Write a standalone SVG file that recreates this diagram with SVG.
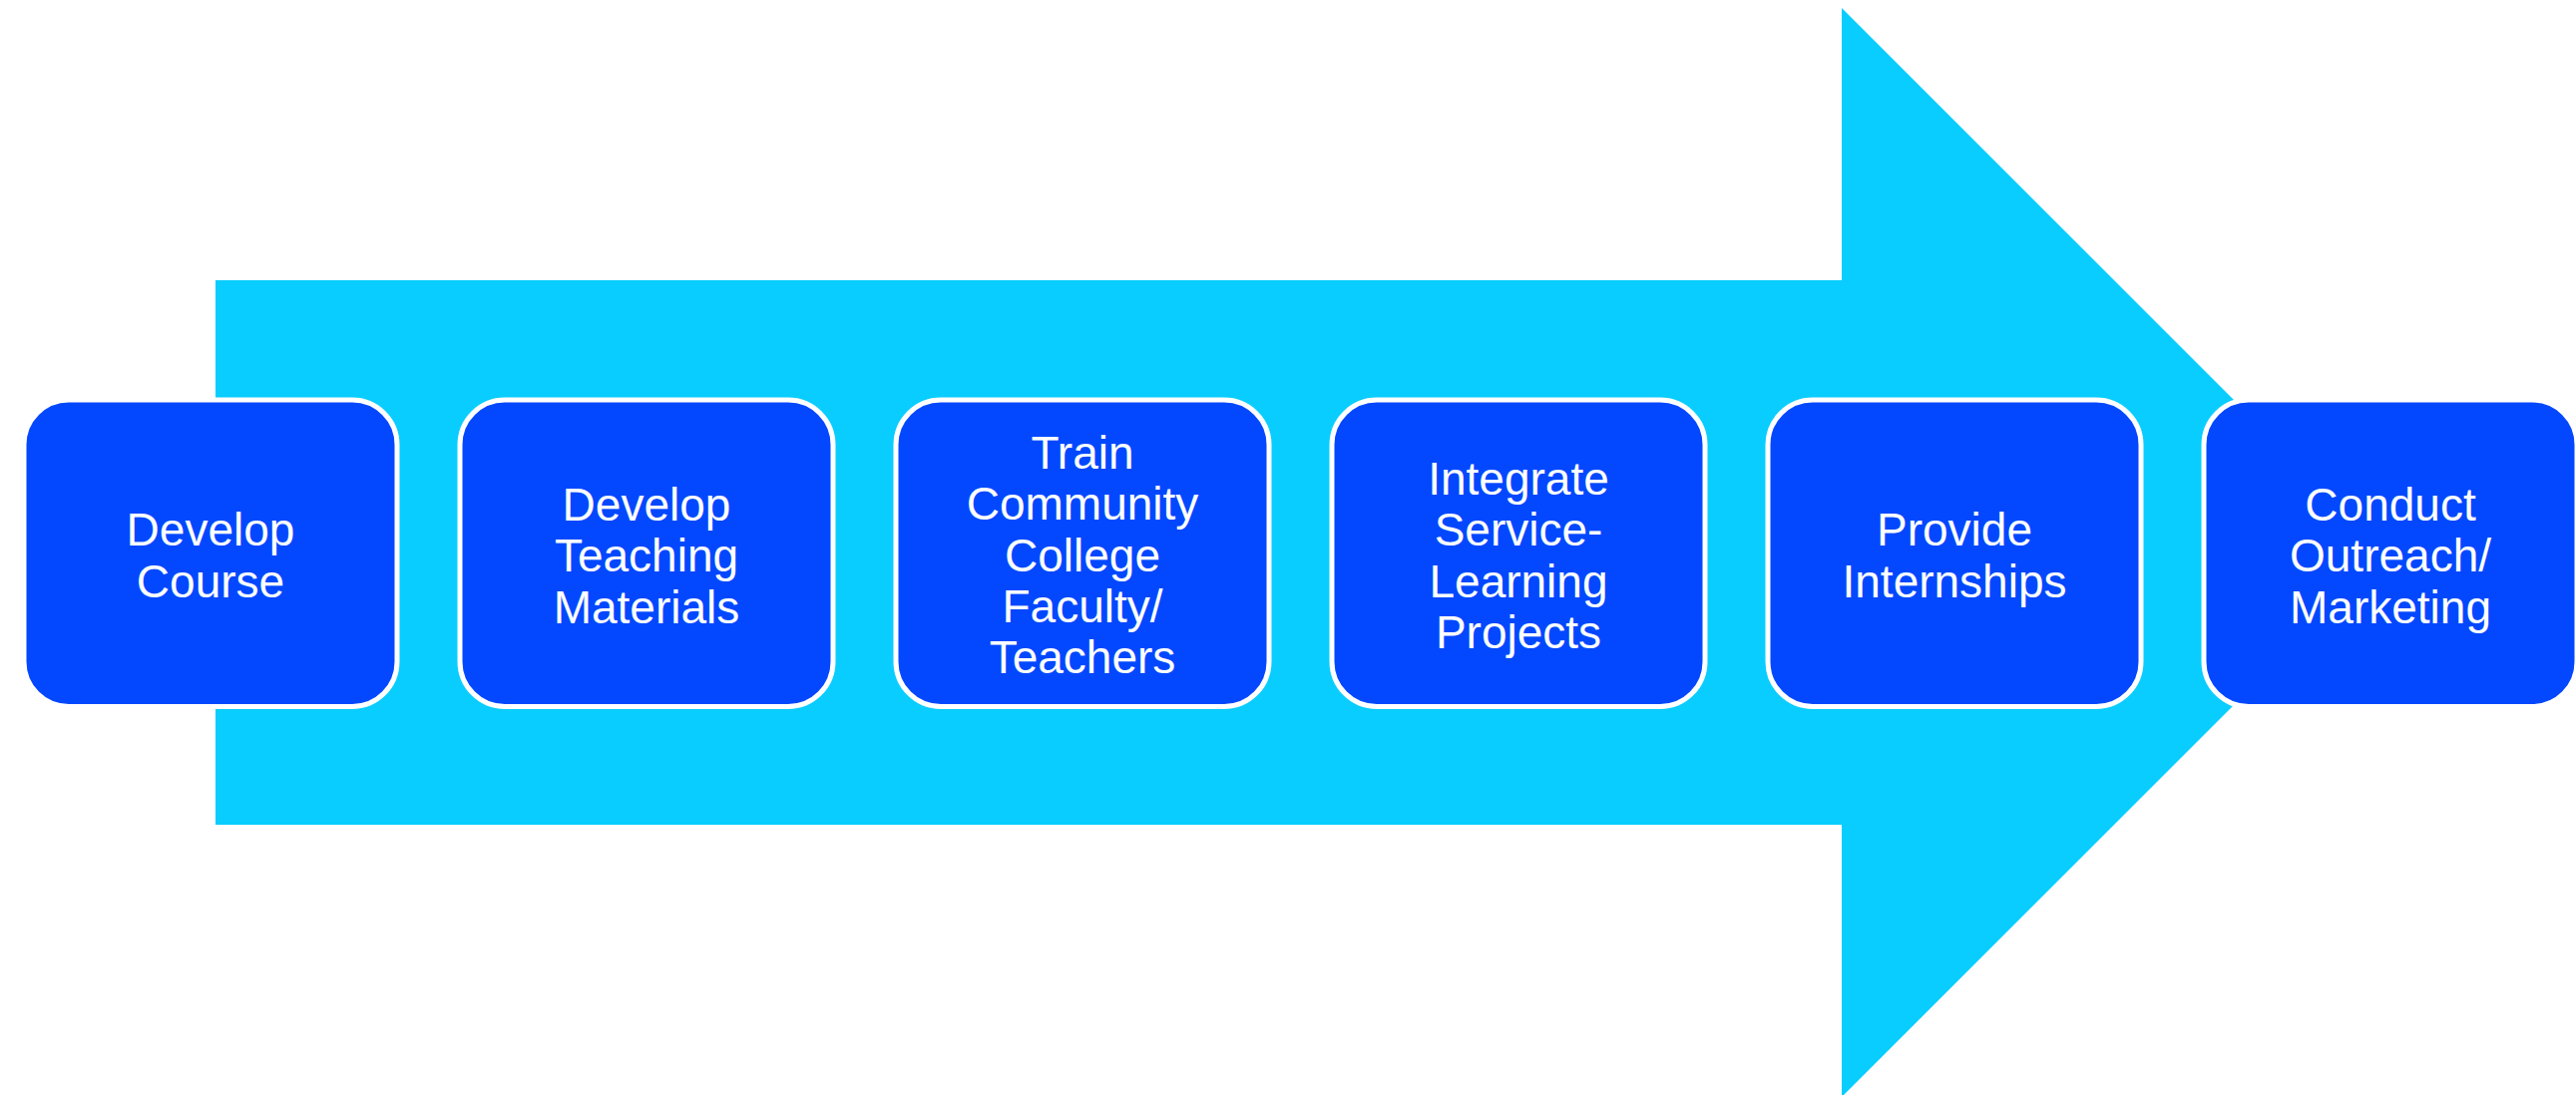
<svg xmlns="http://www.w3.org/2000/svg" width="2582" height="1098" viewBox="0 0 2582 1098">
<style>
.bg{fill:#FFFFFF}
.arrow{fill:#09CDFF}
.box{fill:#0348FF;stroke:#FFFFFF;stroke-width:5}
.lbl{fill:#FFFFFF;font-family:"Liberation Sans",Arial,sans-serif;font-size:46px;text-anchor:middle}
</style>
<rect class="bg" x="0" y="0" width="2582" height="1098"/>
<g id="connectors">
<polygon id="big-arrow" class="arrow" points="216,281 1846,281 1846,8 2392,554 1846,1100 1846,827 216,827"/>
</g>
<g id="node1">
<rect class="box" x="24" y="401" width="374" height="307.5" rx="45" ry="45"/>
<text class="lbl" x="211"><tspan x="211" y="547">Develop</tspan><tspan x="211" y="599">Course</tspan></text>
</g>
<g id="node2">
<rect class="box" x="461" y="401" width="374" height="307.5" rx="45" ry="45"/>
<text class="lbl" x="648"><tspan x="648" y="521.5">Develop</tspan><tspan x="648" y="573">Teaching</tspan><tspan x="648" y="625">Materials</tspan></text>
</g>
<g id="node3">
<rect class="box" x="898" y="401" width="374" height="307.5" rx="45" ry="45"/>
<text class="lbl" x="1085"><tspan x="1085" y="469.5">Train</tspan><tspan x="1085" y="521">Community</tspan><tspan x="1085" y="572.5">College</tspan><tspan x="1085" y="623.5">Faculty/</tspan><tspan x="1085" y="675">Teachers</tspan></text>
</g>
<g id="node4">
<rect class="box" x="1335" y="401" width="374" height="307.5" rx="45" ry="45"/>
<text class="lbl" x="1522"><tspan x="1522" y="496">Integrate</tspan><tspan x="1522" y="547">Service-</tspan><tspan x="1522" y="599">Learning</tspan><tspan x="1522" y="649.5">Projects</tspan></text>
</g>
<g id="node5">
<rect class="box" x="1772" y="401" width="374" height="307.5" rx="45" ry="45"/>
<text class="lbl" x="1959"><tspan x="1959" y="547">Provide</tspan><tspan x="1959" y="599">Internships</tspan></text>
</g>
<g id="node6">
<rect class="box" x="2209" y="401" width="374" height="307.5" rx="45" ry="45"/>
<text class="lbl" x="2396"><tspan x="2396" y="521.5">Conduct</tspan><tspan x="2396" y="573">Outreach/</tspan><tspan x="2396" y="625">Marketing</tspan></text>
</g>
</svg>
